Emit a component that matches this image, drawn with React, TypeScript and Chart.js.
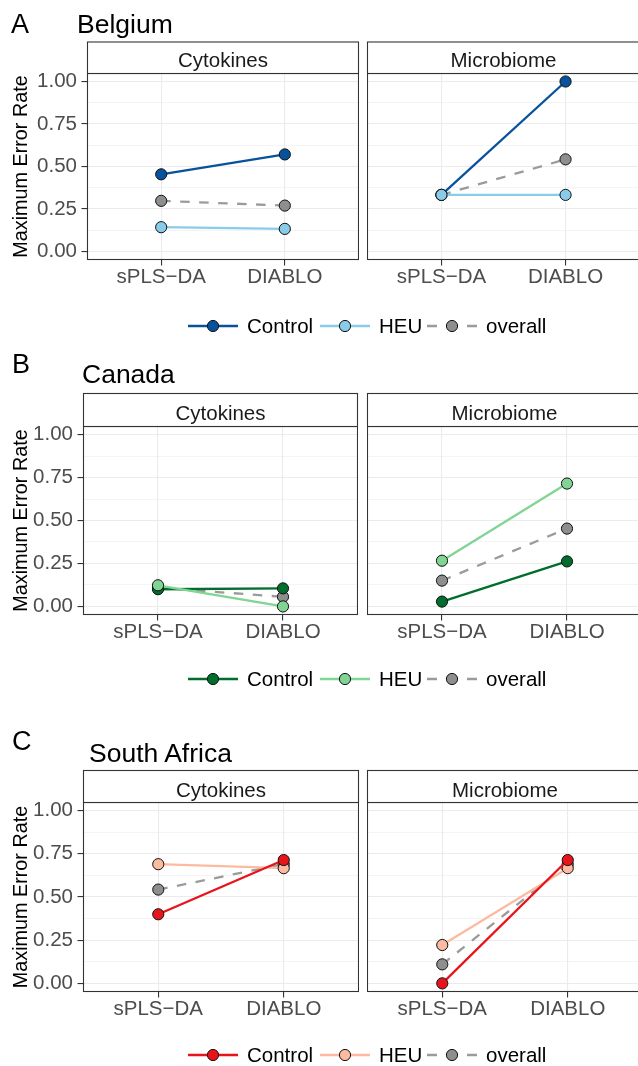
import React, { useEffect, useRef } from "react";
import { Chart, registerables } from "chart.js";

Chart.register(...registerables);

// ---------- data ----------
const CATEGORIES = ["sPLS\u2212DA", "DIABLO"];
const FACETS = ["Cytokines", "Microbiome"];
const GROUPS = ["Control", "HEU", "overall"];
const Y_TICKS = [0, 0.25, 0.5, 0.75, 1];
const Y_TICK_LABELS = ["0.00", "0.25", "0.50", "0.75", "1.00"];
const Y_TITLE = "Maximum Error Rate";

// Belgium
const BE_CYTO_CONTROL = [0.454, 0.571];
const BE_CYTO_HEU = [0.143, 0.133];
const BE_CYTO_OVERALL = [0.298, 0.27];
const BE_MICRO_CONTROL = [0.333, 1.0];
const BE_MICRO_HEU = [0.333, 0.333];
const BE_MICRO_OVERALL = [0.333, 0.542];

// Canada
const CA_CYTO_CONTROL = [0.1, 0.105];
const CA_CYTO_HEU = [0.123, 0.0];
const CA_CYTO_OVERALL = [0.108, 0.056];
const CA_MICRO_CONTROL = [0.028, 0.262];
const CA_MICRO_HEU = [0.266, 0.715];
const CA_MICRO_OVERALL = [0.15, 0.453];

// South Africa
const ZA_CYTO_CONTROL = [0.4, 0.714];
const ZA_CYTO_HEU = [0.69, 0.667];
const ZA_CYTO_OVERALL = [0.543, 0.69];
const ZA_MICRO_CONTROL = [0.0, 0.714];
const ZA_MICRO_HEU = [0.222, 0.667];
const ZA_MICRO_OVERALL = [0.11, 0.69];

// ---------- styles / layout ----------
const FONT = "'Liberation Sans', Arial, Helvetica, sans-serif";
const OVERALL_LINE = "#9B9B9B";
const OVERALL_POINT = "#8E8E8E";
const XH = 40;

type Row = {
  letter: string;
  country: string;
  letterX: number;
  letterBase: number;
  countryX: number;
  countryBase: number;
  stripTop: number;
  stripBase: number;
  plotTop: number;
  plotBottom: number;
  facetX: [number, number][];
  legendY: number;
  colors: { Control: string; HEU: string };
  order: string[];
  values: Record<string, Record<string, number[]>>;
};

const ROWS: Row[] = [
  {
    letter: "A",
    country: "Belgium",
    letterX: 11,
    letterBase: 32.7,
    countryX: 77,
    countryBase: 32.7,
    stripTop: 41.5,
    stripBase: 66.7,
    plotTop: 73,
    plotBottom: 260,
    facetX: [
      [87, 359],
      [367, 640],
    ],
    legendY: 326,
    colors: { Control: "#08519C", HEU: "#89CCE9" },
    order: ["HEU", "Control", "overall"],
    values: {
      Cytokines: { Control: BE_CYTO_CONTROL, HEU: BE_CYTO_HEU, overall: BE_CYTO_OVERALL },
      Microbiome: { Control: BE_MICRO_CONTROL, HEU: BE_MICRO_HEU, overall: BE_MICRO_OVERALL },
    },
  },
  {
    letter: "B",
    country: "Canada",
    letterX: 12,
    letterBase: 373,
    countryX: 82,
    countryBase: 383,
    stripTop: 393,
    stripBase: 420,
    plotTop: 426,
    plotBottom: 615,
    facetX: [
      [83, 358],
      [367, 642],
    ],
    legendY: 679,
    colors: { Control: "#006D2C", HEU: "#80D494" },
    order: ["HEU", "Control", "overall"],
    values: {
      Cytokines: { Control: CA_CYTO_CONTROL, HEU: CA_CYTO_HEU, overall: CA_CYTO_OVERALL },
      Microbiome: { Control: CA_MICRO_CONTROL, HEU: CA_MICRO_HEU, overall: CA_MICRO_OVERALL },
    },
  },
  {
    letter: "C",
    country: "South Africa",
    letterX: 12,
    letterBase: 750,
    countryX: 89,
    countryBase: 762,
    stripTop: 770,
    stripBase: 796.7,
    plotTop: 802,
    plotBottom: 992,
    facetX: [
      [83, 359],
      [367, 643],
    ],
    legendY: 1055,
    colors: { Control: "#E8141C", HEU: "#FCBBA1" },
    order: ["Control", "HEU", "overall"],
    values: {
      Cytokines: { Control: ZA_CYTO_CONTROL, HEU: ZA_CYTO_HEU, overall: ZA_CYTO_OVERALL },
      Microbiome: { Control: ZA_MICRO_CONTROL, HEU: ZA_MICRO_HEU, overall: ZA_MICRO_OVERALL },
    },
  },
];

const LEGEND_KEY_X = [188, 320, 427];
const LEGEND_KEY_W = 50;

// minor grid = midpoints between major ticks
const Y_GRID: number[] = [];
Y_TICKS.forEach((v, i) => {
  Y_GRID.push(v);
  if (i < Y_TICKS.length - 1) Y_GRID.push((v + Y_TICKS[i + 1]) / 2);
});
const isMajor = (v: number) => Y_TICKS.some((t) => Math.abs(t - v) < 1e-9);

type Spec = {
  row: Row;
  facet: string;
  left: number;
  top: number;
  width: number;
  height: number;
  axisW: number;
  showY: boolean;
};

const SPECS: Spec[] = [];
ROWS.forEach((row) => {
  FACETS.forEach((facet, fi) => {
    const [x0, x1] = row.facetX[fi];
    const showY = fi === 0;
    SPECS.push({
      row,
      facet,
      left: showY ? 0 : x0,
      top: row.plotTop,
      width: showY ? x1 : x1 - x0,
      height: row.plotBottom - row.plotTop + XH,
      axisW: showY ? x0 : 0,
      showY,
    });
  });
});

const colorOf = (row: Row, g: string) =>
  g === "overall" ? OVERALL_POINT : (row.colors as any)[g];
const lineColorOf = (row: Row, g: string) =>
  g === "overall" ? OVERALL_LINE : (row.colors as any)[g];

const panelBorder = {
  id: "panelBorder",
  afterDraw(chart: any) {
    const { ctx, chartArea } = chart;
    const { left, top, right, bottom } = chartArea;
    ctx.save();
    ctx.strokeStyle = "#333333";
    ctx.lineWidth = 1.1;
    ctx.strokeRect(left + 0.5, top + 0.5, right - left - 1, bottom - top - 1);
    ctx.restore();
  },
};

function makeConfig(spec: Spec): any {
  const { row, facet, showY, axisW } = spec;
  const datasets = row.order.map((g) => ({
    label: g,
    data: row.values[facet][g].map((v, i) => ({ x: i + 1, y: v })),
    borderColor: lineColorOf(row, g),
    borderWidth: 2.3,
    borderDash: g === "overall" ? [9.5, 9.5] : [],
    pointBackgroundColor: colorOf(row, g),
    pointBorderColor: "#111111",
    pointBorderWidth: 1,
    pointRadius: 5.6,
    pointHoverRadius: 5.6,
    fill: false,
    tension: 0,
  }));
  return {
    type: "line",
    data: { datasets },
    plugins: [panelBorder],
    options: {
      animation: false,
      responsive: false,
      maintainAspectRatio: false,
      events: [],
      layout: { padding: 0, autoPadding: false },
      plugins: { legend: { display: false }, tooltip: { enabled: false } },
      scales: {
        x: {
          type: "linear",
          min: 0.4,
          max: 2.6,
          afterBuildTicks: (s: any) => {
            s.ticks = CATEGORIES.map((_, i) => ({ value: i + 1 }));
          },
          afterFit: (s: any) => {
            s.height = XH;
            s.paddingLeft = 0;
            s.paddingRight = 0;
          },
          ticks: {
            autoSkip: false,
            maxRotation: 0,
            padding: 0,
            color: "#4D4D4D",
            font: { size: 20.5, family: FONT },
            callback: (_v: any, i: number) => CATEGORIES[i],
          },
          grid: {
            color: "#EBEBEB",
            lineWidth: 1.1,
            tickColor: "#333333",
            tickWidth: 1.1,
            tickLength: 5.5,
            drawTicks: true,
          },
          border: { display: false },
        },
        y: {
          type: "linear",
          min: -0.05,
          max: 1.05,
          afterBuildTicks: (s: any) => {
            s.ticks = Y_GRID.map((v) => ({ value: v }));
          },
          afterFit: (s: any) => {
            s.width = axisW;
            s.paddingTop = 0;
            s.paddingBottom = 0;
          },
          ticks: {
            display: showY,
            autoSkip: false,
            padding: 4.5,
            color: "#4D4D4D",
            font: { size: 20.5, family: FONT },
            callback: (v: number) => {
              const idx = Y_TICKS.findIndex((t) => Math.abs(t - v) < 1e-9);
              return idx >= 0 ? Y_TICK_LABELS[idx] : "";
            },
          },
          grid: {
            color: "#EBEBEB",
            lineWidth: (ctx: any) => (isMajor(ctx.tick.value) ? 1.1 : 0.55),
            tickColor: (ctx: any) => (isMajor(ctx.tick.value) ? "#333333" : "rgba(0,0,0,0)"),
            tickWidth: 1.1,
            tickLength: 5.5,
            drawTicks: showY,
          },
          border: { display: false },
          title: {
            display: showY,
            text: Y_TITLE,
            color: "#000000",
            font: { size: 19.8, family: FONT },
            padding: { top: 10, bottom: 0 },
          },
        },
      },
    },
  };
}

export default function App() {
  const refs = useRef<(HTMLCanvasElement | null)[]>([]);

  useEffect(() => {
    Chart.defaults.font.family = FONT;
    const charts: Chart[] = [];
    SPECS.forEach((spec, k) => {
      const c = refs.current[k];
      if (c) charts.push(new Chart(c, makeConfig(spec)));
    });
    return () => charts.forEach((ch) => ch.destroy());
  }, []);

  return (
    <div
      style={{
        position: "absolute",
        left: 0,
        top: 0,
        width: 638,
        height: 1066,
        overflow: "hidden",
        background: "#ffffff",
      }}
    >
      {SPECS.map((s, k) => (
        <canvas
          key={k}
          ref={(el) => {
            refs.current[k] = el;
          }}
          width={s.width}
          height={s.height}
          style={{
            position: "absolute",
            left: s.left,
            top: s.top,
            width: s.width,
            height: s.height,
          }}
        />
      ))}
      <svg
        width={638}
        height={1066}
        style={{ position: "absolute", left: 0, top: 0, pointerEvents: "none" }}
        fontFamily={FONT}
      >
        {ROWS.map((row, ri) => (
          <g key={ri}>
            <text x={row.letterX} y={row.letterBase} fontSize={27} fill="#000">
              {row.letter}
            </text>
            <text x={row.countryX} y={row.countryBase} fontSize={26.5} fill="#000">
              {row.country}
            </text>
            {FACETS.map((f, fi) => {
              const [x0, x1] = row.facetX[fi];
              return (
                <g key={f}>
                  <rect
                    x={x0 + 0.5}
                    y={row.stripTop + 0.5}
                    width={x1 - x0 - 1}
                    height={row.plotTop - row.stripTop}
                    fill="#ffffff"
                    stroke="#333333"
                    strokeWidth={1.1}
                  />
                  <text
                    x={(x0 + x1) / 2}
                    y={row.stripBase}
                    fontSize={20.5}
                    textAnchor="middle"
                    fill="#1A1A1A"
                  >
                    {f}
                  </text>
                </g>
              );
            })}
            {GROUPS.map((g, gi) => {
              const kx = LEGEND_KEY_X[gi];
              const y = row.legendY;
              return (
                <g key={g}>
                  <line
                    x1={kx}
                    x2={kx + LEGEND_KEY_W}
                    y1={y}
                    y2={y}
                    stroke={lineColorOf(row, g)}
                    strokeWidth={2.3}
                    strokeDasharray={g === "overall" ? "10 10" : undefined}
                  />
                  <circle
                    cx={kx + LEGEND_KEY_W / 2}
                    cy={y}
                    r={5.6}
                    fill={colorOf(row, g)}
                    stroke="#111111"
                    strokeWidth={1}
                  />
                  <text x={kx + LEGEND_KEY_W + 9} y={y + 7} fontSize={20.5} fill="#000">
                    {g}
                  </text>
                </g>
              );
            })}
          </g>
        ))}
      </svg>
    </div>
  );
}
